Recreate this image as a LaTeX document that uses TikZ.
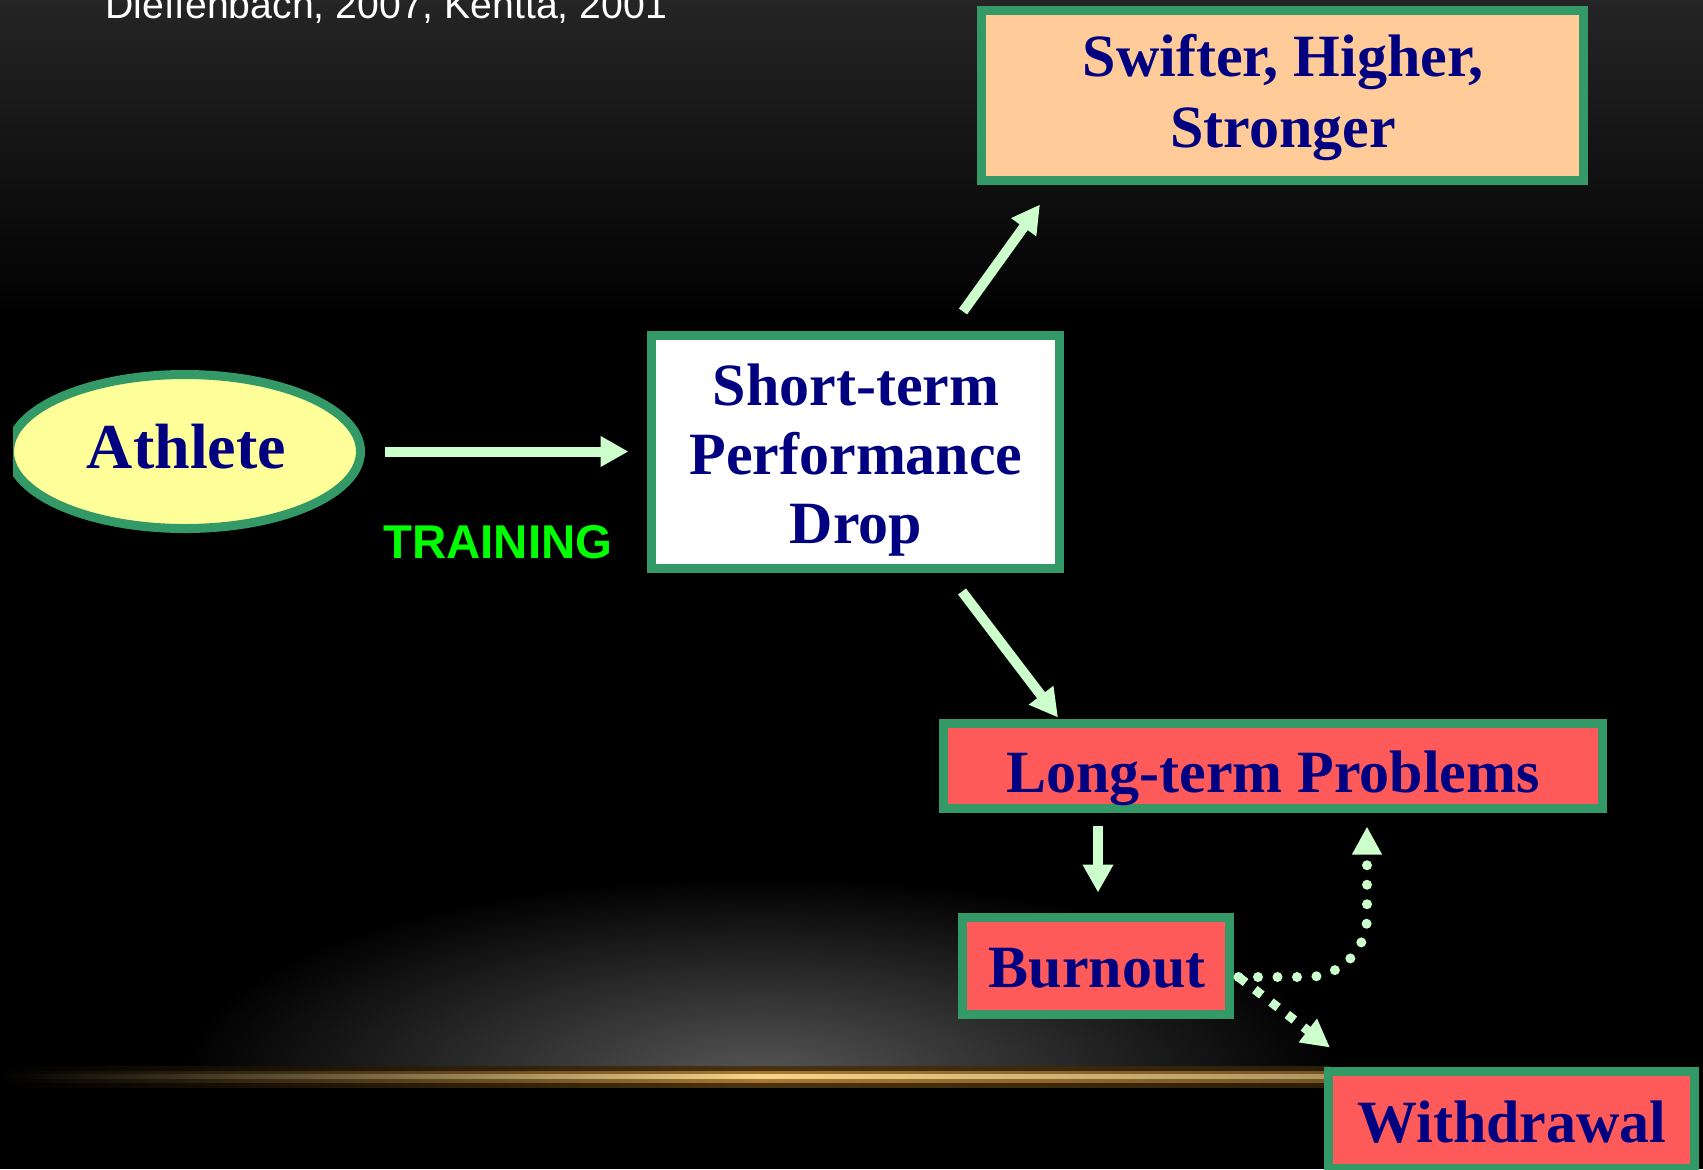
\documentclass[tikz,border=0pt]{standalone}
\usepackage{fontspec}
\setmainfont{Liberation Serif}
\newfontfamily\sansf{Liberation Sans}
\usetikzlibrary{shapes.geometric,arrows.meta,calc}
\definecolor{bordergreen}{HTML}{339966}
\definecolor{arrowgreen}{HTML}{CCFFCC}
\definecolor{peach}{HTML}{FFCC99}
\definecolor{lemon}{HTML}{FFFF99}
\definecolor{redfill}{HTML}{FF5A5A}
\definecolor{navytext}{HTML}{000080}
\definecolor{traingreen}{HTML}{00FF00}
\definecolor{topgray}{HTML}{252525}
\definecolor{glowgray}{HTML}{555555}
\definecolor{goldcore}{HTML}{F5D58A}
\definecolor{goldmid}{HTML}{A87832}
\definecolor{goldglow}{HTML}{4A3210}
\begin{document}
\begin{tikzpicture}[x=0.5pt,y=-0.5pt,
  boxnode/.style={rectangle, draw=bordergreen, line width=4.5pt, inner sep=0pt},
  lbl/.style={text=navytext, inner sep=0pt, font=\bfseries\fontsize{30pt}{35pt}\selectfont},
  arr/.style={draw=arrowgreen, line width=5pt, -{Triangle[length=14pt,width=14.5pt]}},
  dotarr/.style={draw=arrowgreen, line width=5pt, line cap=round, dash pattern=on 0pt off 9.75pt, -{Triangle[length=14pt,width=14pt]}},
  sqarr/.style={draw=arrowgreen, line width=4.5pt, dash pattern=on 4.5pt off 5.75pt, -{Triangle[length=14pt,width=14pt]}}]
\useasboundingbox (0,0) rectangle (1703,1169);
% background
\fill[black] (0,0) rectangle (1703,1169);
\shade[top color=topgray, bottom color=black] (0,0) rectangle (1703,320);
\begin{scope}
  \clip (0,0) rectangle (1703,1076);
  \shade[inner color=glowgray, outer color=black] (760,1076) ellipse [x radius=580, y radius=200];
\end{scope}
\shade[left color=black, middle color=goldglow, right color=goldglow] (0,1066) rectangle (760,1087);
\shade[left color=goldglow, right color=goldglow!60!black] (760,1066) rectangle (1330,1087);
\shade[left color=black, middle color=goldmid, right color=goldmid] (0,1071) rectangle (760,1082);
\shade[left color=goldmid, right color=goldmid!70!black] (760,1071) rectangle (1330,1082);
\shade[left color=black, middle color=goldcore, right color=goldcore] (0,1074) rectangle (760,1078.5);
\shade[left color=goldcore, right color=goldcore!70!black] (760,1074) rectangle (1330,1078.5);

% citation
\node[anchor=base west, inner sep=0pt, text=white, font=\sansf\fontsize{19.6pt}{20pt}\selectfont] (cite) at (105,18) {Dieffenbach, 2007, Kentta, 2001};

% nodes
\begin{scope}
  \clip (13,0) rectangle (1703,1169);
  \node[ellipse, draw=bordergreen, line width=4.5pt, fill=lemon, inner sep=0pt, minimum width=175.5pt, minimum height=77pt] (ath) at (185,451.5) {};
\end{scope}
\node[text=navytext, inner sep=0pt, anchor=base, font=\bfseries\fontsize{32pt}{36pt}\selectfont] (athT) at (186.5,468) {Athlete};

\node[boxnode, fill=peach, minimum width=301pt, minimum height=85pt] (sw) at (1282.5,95.5) {};
\node[lbl, align=center, font=\bfseries\fontsize{30pt}{35.5pt}\selectfont] (swT) at (1283,97.3) {Swifter, Higher,\\Stronger};

\node[boxnode, fill=white, minimum width=204pt, minimum height=116.5pt] (st) at (855.5,452) {};
\node[lbl, align=center, font=\bfseries\fontsize{30pt}{34.5pt}\selectfont] (stT) at (856,460) {Short-term\\Performance\\Drop};

\node[boxnode, fill=redfill, minimum width=329.5pt, minimum height=42.5pt] (lt) at (1273,766) {};
\node[lbl, anchor=base] (ltT) at (1273,792) {Long-term Problems};

\node[boxnode, fill=redfill, minimum width=133.5pt, minimum height=48.5pt] (bo) at (1096,966) {};
\node[lbl, anchor=base] (boT) at (1097,987) {Burnout};

\node[boxnode, fill=redfill, minimum width=183pt, minimum height=48.5pt] (wd) at (1511.5,1120) {};
\node[lbl, anchor=base] (wdT) at (1512,1142) {Withdrawal};

\node[anchor=base west, inner sep=0pt, text=traingreen, font=\sansf\bfseries\fontsize{23.7pt}{24pt}\selectfont] (train) at (383,558) {TRAINING};

% connectors
\draw[arr, shorten <=9.75pt, shorten >=9.25pt] (ath.east) -- (ath.east -| st.west);
\draw[arr] ($(st.north)+(107.5,-19.5)$) -- ($(sw.south)+(-242.5,19.5)$);
\draw[arr] ($(st.south)+(106.5,18.5)$) -- ($(lt.north)+(-215,-1.5)$);
\draw[arr] ($(lt.south)+(-175,12.5)$) -- ($(bo.north)+(2,-20.5)$);
\draw[dotarr, rounded corners=30pt] ($(bo.east)+(4.5,11)$) -| ($(lt.south)+(94,13.5)$);
\draw[sqarr] ($(bo.east)+(4.5,11)$) -- ($(wd.north)+(-181.5,-19.5)$);
\end{tikzpicture}
\end{document}
